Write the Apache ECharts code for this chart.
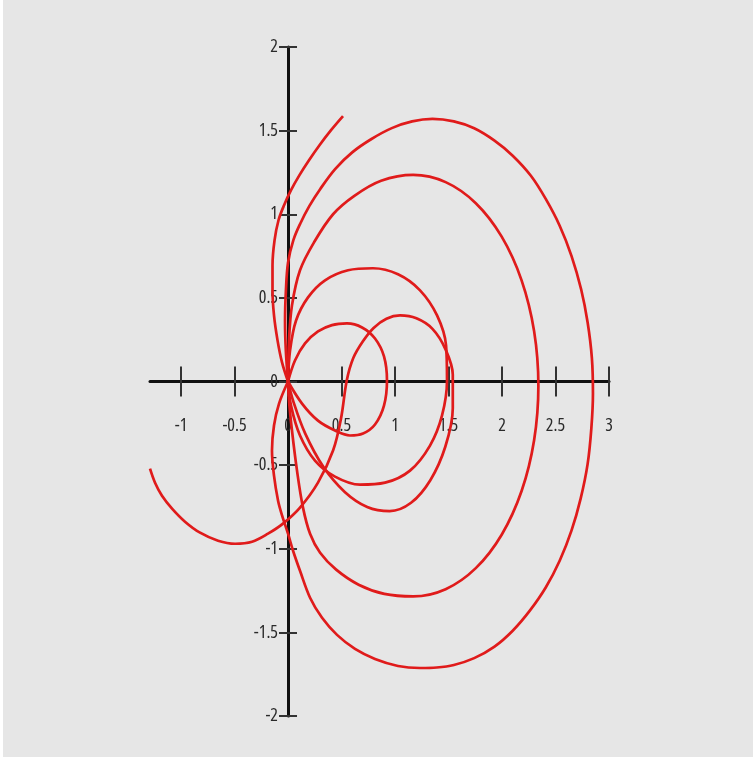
<!DOCTYPE html>
<html>
<head>
<meta charset="utf-8">
<script src="https://cdn.jsdelivr.net/npm/echarts@6/dist/echarts.min.js"></script>
<style>
html,body{margin:0;padding:0;background:#ffffff;}
#chart{position:absolute;left:3px;top:0;width:750px;height:757px;background:#e6e6e6;}
</style>
</head>
<body>
<div id="chart"></div>
<script>
// tick values
var xTicks = [-1, -0.5, 0, 0.5, 1, 1.5, 2, 2.5, 3];
var yTicks = [-2, -1.5, -1, -0.5, 0, 0.5, 1, 1.5, 2];
var xRange = [-1.29, 3];
var yRange = [-2, 2];

// traced curve pieces (x, y)
var tailBottom = [
  [-1.290,-0.521],[-1.243,-0.605],[-1.178,-0.683],[-1.084,-0.760],[-0.963,-0.838],
  [-0.822,-0.904],[-0.654,-0.952],[-0.495,-0.970],[-0.336,-0.958],[-0.187,-0.910],
  [-0.047,-0.850],[0.112,-0.754],[0.280,-0.605],[0.421,-0.413],[0.495,-0.222],
  [0.549,0.006],[0.610,0.140],[0.700,0.240],[0.800,0.320],[0.920,0.375],
  [1.047,0.395],[1.200,0.378],[1.350,0.315],[1.470,0.195],[1.540,0.040],
  [1.540,-0.160],[1.470,-0.390],[1.330,-0.590],[1.150,-0.725],[0.950,-0.775],
  [0.740,-0.750],[0.530,-0.660],[0.330,-0.510],[0.160,-0.310],[0.050,-0.120],[0,0]
];
var loopA = [
  [0,0],[0.065,0.126],[0.159,0.228],[0.280,0.299],[0.411,0.337],[0.551,0.347],
  [0.692,0.323],[0.813,0.257],[0.897,0.150],[0.925,0.006],[0.897,-0.144],
  [0.813,-0.257],[0.701,-0.311],[0.579,-0.323],[0.439,-0.293],[0.280,-0.234],
  [0.131,-0.132],[0,0]
];
var loopC = [
  [0,0],[0.019,0.186],[0.075,0.365],[0.187,0.503],[0.346,0.605],[0.561,0.665],
  [0.794,0.677],[1.028,0.641],[1.234,0.545],[1.393,0.395],[1.477,0.216],
  [1.486,0.006],[1.439,-0.204],[1.327,-0.383],[1.140,-0.533],[0.907,-0.605],
  [0.673,-0.617],[0.439,-0.569],[0.252,-0.473],[0.112,-0.323],[0.028,-0.144],[0,0]
];
var loopE = [
  [0,0],[0.009,0.246],[0.037,0.455],[0.112,0.665],[0.243,0.832],[0.421,1.0],
  [0.620,1.110],[0.870,1.200],[1.170,1.235],[1.473,1.192],[1.755,1.066],
  [1.997,0.866],[2.183,0.605],[2.300,0.301],[2.340,-0.025],[2.300,-0.351],
  [2.183,-0.655],[1.997,-0.916],[1.755,-1.116],[1.473,-1.242],[1.170,-1.285],
  [0.900,-1.270],[0.660,-1.215],[0.450,-1.125],[0.300,-1.024],[0.206,-0.910],
  [0.140,-0.754],[0.084,-0.533],[0.037,-0.293],[0.009,-0.114],[0,0]
];
var loopF = [
  [0,0],[-0.020,0.180],[-0.028,0.360],[-0.020,0.540],[0,0.710],[0.050,0.845],
  [0.115,0.945],[0.200,1.050],[0.300,1.150],[0.440,1.270],[0.600,1.370],
  [0.780,1.450],[0.970,1.515],[1.160,1.555],[1.350,1.570],[1.550,1.555],
  [1.740,1.514],[1.930,1.440],[2.100,1.350],[2.270,1.230],[2.410,1.090],
  [2.540,0.930],[2.650,0.750],[2.740,0.550],[2.800,0.354],[2.840,0.140],
  [2.850,-0.070],[2.835,-0.280],[2.800,-0.494],[2.735,-0.700],[2.650,-0.890],
  [2.540,-1.070],[2.410,-1.230],[2.260,-1.370],[2.100,-1.490],[1.930,-1.585],
  [1.740,-1.654],[1.550,-1.695],[1.390,-1.710],[1.234,-1.713],[1.028,-1.701],
  [0.813,-1.659],[0.626,-1.599],[0.458,-1.515],[0.318,-1.413],[0.206,-1.293],
  [0.112,-1.132],[0.047,-1.012],[0,-0.910],[-0.056,-0.800],[-0.093,-0.713],
  [-0.131,-0.563],[-0.150,-0.413],[-0.131,-0.263],[-0.084,-0.132],[0,0]
];
var tailTop = [
  [0,0],[-0.056,0.114],[-0.098,0.246],[-0.131,0.395],[-0.145,0.545],[-0.145,0.695],
  [-0.126,0.844],[-0.089,0.964],[-0.037,1.054],[0.028,1.144],[0.107,1.234],
  [0.196,1.323],[0.294,1.413],[0.402,1.503],[0.514,1.587]
];

var pieces = [tailBottom, loopA, loopC, loopE, loopF, tailTop];

// choose a narrow face if one is installed (labels in the picture are narrow)
function measure(font, s) {
  var c = document.createElement('canvas').getContext('2d');
  c.font = '10px monospace';
  c.font = font;
  return c.measureText(s).width;
}
var sample = '-0.5 1.5 2.5 -1';
var labelFamily = '"Liberation Sans", sans-serif';
var labelWeight = 'normal';
var narrowFound = false;
var baseW = measure('normal normal 16px "Liberation Sans"', sample);
var best = baseW * 0.95;
[['"Liberation Sans Narrow"', 'normal'], ['"Arial Narrow"', 'normal'],
 ['"DejaVu Sans Condensed"', 'normal'], ['"Noto Sans"', 'condensed'],
 ['"Open Sans"', 'condensed'], ['"DejaVu Sans"', 'condensed']].forEach(function (c) {
  var w = measure('normal ' + c[1] + ' 16px ' + c[0] + ', "Liberation Sans"', sample);
  if (w < best) { best = w; labelFamily = c[0] + ', "Liberation Sans", sans-serif'; labelWeight = c[1]; narrowFound = true; }
});
var labelSize = narrowFound ? 18 : 15;

var W = 750, H = 757;
var gridL = 147, gridR = 144, gridT = 47, gridB = 41;
var gw = W - gridL - gridR, gh = H - gridT - gridB;
// axes cross at the data origin: shift them into the plot
var yOff = -gw * (0 - xRange[0]) / (xRange[1] - xRange[0]);
var xOff = -gh * (0 - yRange[0]) / (yRange[1] - yRange[0]);

var chart = echarts.init(document.getElementById('chart'), null, {renderer: 'canvas', width: W, height: H});
var red = '#e01b1b';

function makeX(main) {
  return {
    type: 'value', gridIndex: 0, min: xRange[0], max: xRange[1], position: 'bottom', offset: xOff,
    axisLine: {show: main, onZero: false, lineStyle: {color: '#111', width: 3}},
    axisTick: {show: true, inside: !main, length: 15, customValues: xTicks, lineStyle: {color: '#333', width: 2}},
    axisLabel: {show: main, customValues: xTicks, margin: 35, color: '#2a2a2a', fontSize: labelSize,
      fontFamily: labelFamily, fontWeight: labelWeight},
    splitLine: {show: false}
  };
}
function makeY(main) {
  return {
    type: 'value', gridIndex: 0, min: yRange[0], max: yRange[1], position: 'left', offset: yOff,
    axisLine: {show: main, onZero: false, lineStyle: {color: '#111', width: 3}},
    axisTick: {show: true, inside: !main, length: 9, customValues: yTicks, lineStyle: {color: '#333', width: 2}},
    axisLabel: {show: main, customValues: yTicks, margin: 10, color: '#2a2a2a', fontSize: labelSize,
      fontFamily: labelFamily, fontWeight: labelWeight},
    splitLine: {show: false}
  };
}

chart.setOption({
  animation: false,
  backgroundColor: '#e6e6e6',
  grid: {left: gridL, right: gridR, top: gridT, bottom: gridB, containLabel: false},
  xAxis: [makeX(true), makeX(false)],
  yAxis: [makeY(true), makeY(false)],
  series: pieces.map(function (p) {
    return {
      type: 'line', xAxisIndex: 0, yAxisIndex: 0, data: p, showSymbol: false,
      smooth: 0.35, clip: false, z: 5,
      lineStyle: {color: red, width: 2.7}
    };
  })
});
</script>
</body>
</html>
